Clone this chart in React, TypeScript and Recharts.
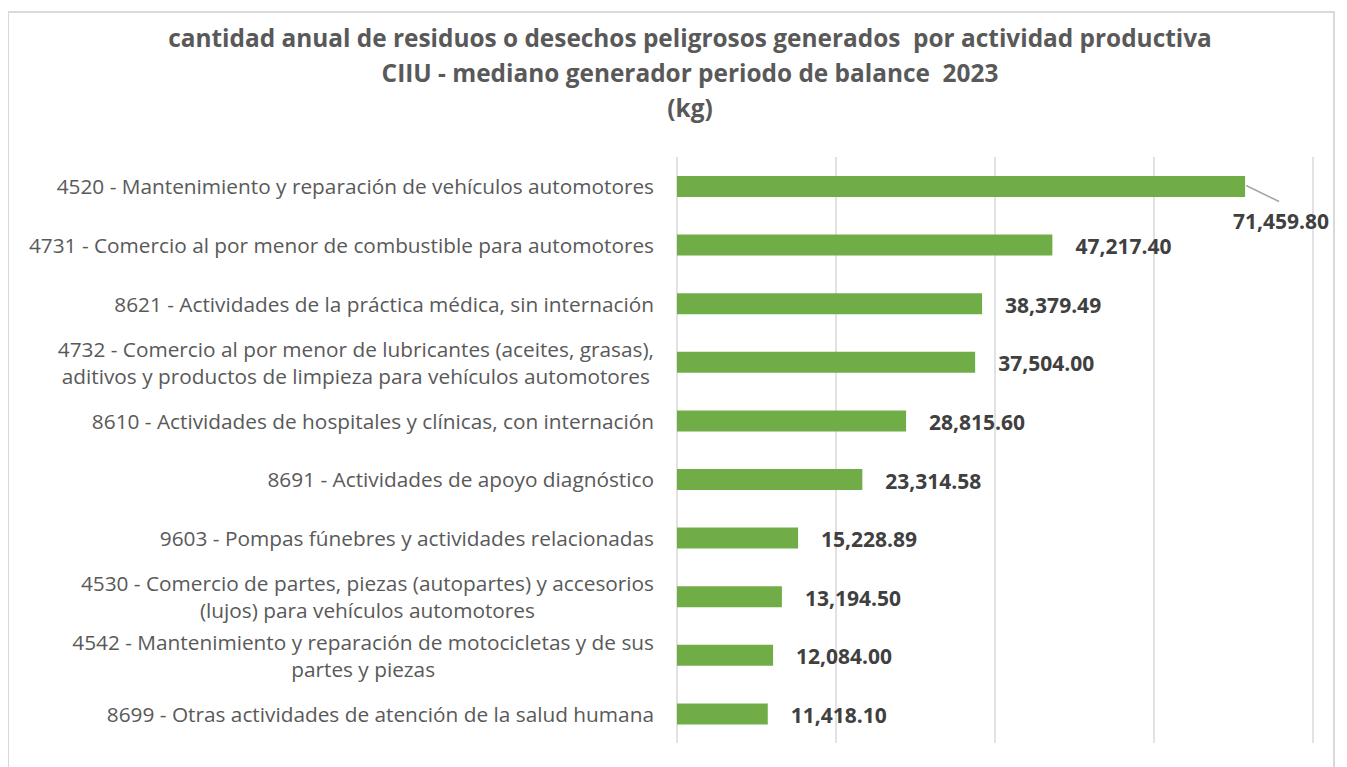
import React from 'react';
import { BarChart, Bar, XAxis, YAxis, CartesianGrid, LabelList } from 'recharts';

const categories = [
  '4520 - Mantenimiento y reparación de vehículos automotores',
  '4731 - Comercio al por menor de combustible para automotores',
  '8621 - Actividades de la práctica médica, sin internación',
  '4732 - Comercio al por menor de lubricantes (aceites, grasas),\naditivos y productos de limpieza para vehículos automotores',
  '8610 - Actividades de hospitales y clínicas, con internación',
  '8691 - Actividades de apoyo diagnóstico',
  '9603 - Pompas fúnebres y actividades relacionadas',
  '4530 - Comercio de partes, piezas (autopartes) y accesorios\n(lujos) para vehículos automotores',
  '4542 - Mantenimiento y reparación de motocicletas y de sus\npartes y piezas',
  '8699 - Otras actividades de atención de la salud humana',
];
const values = [71459.8, 47217.4, 38379.49, 37504.0, 28815.6, 23314.58, 15228.89, 13194.5, 12084.0, 11418.1];
const xTicks = [0, 20000, 40000, 60000, 80000];
const titleLines = [
  'cantidad anual de residuos o desechos peligrosos generados  por actividad productiva',
  'CIIU - mediano generador periodo de balance  2023',
  '(kg)',
];

const data = categories.map((name, i) => ({ name, value: values[i] }));

const CAT_FONT_SIZE = 20.8;
const CAT_FONT = `${CAT_FONT_SIZE}px "Open Sans"`;
let ctx: CanvasRenderingContext2D | null = null;
const measure = (t: string) => {
  if (!ctx) ctx = document.createElement('canvas').getContext('2d');
  if (!ctx) return t.length * 10;
  ctx.font = CAT_FONT;
  return ctx.measureText(t).width;
};

const fmt = (v: number) => v.toLocaleString('en-US', { minimumFractionDigits: 2, maximumFractionDigits: 2 });

function CatTick(props: any) {
  const { x, y, payload } = props;
  const lines: string[] = String(payload.value).split('\n');
  const right = x - 23;
  const common = { fill: '#595959', fontSize: CAT_FONT_SIZE, fontFamily: '"Open Sans"' };
  if (lines.length === 1) {
    return (
      <text x={right} y={y} dominantBaseline="central" textAnchor="end" {...common}>
        {lines[0]}
      </text>
    );
  }
  const w = Math.max(...lines.map(measure));
  const cx = right - w / 2;
  const n = lines.length;
  return (
    <text textAnchor="middle" {...common}>
      {lines.map((l, i) => (
        <tspan key={i} x={cx} y={y + (i - (n - 1) / 2) * 27} dominantBaseline="central">
          {l}
        </tspan>
      ))}
    </text>
  );
}

function ValueLabel(props: any) {
  const { x, y, width, height, value, index } = props;
  const endX = x + width;
  const cy = y + height / 2;
  const style = { fill: '#404040', fontSize: 21, fontWeight: 700, fontFamily: '"Open Sans"' };
  if (index === 0) {
    return (
      <g>
        <line x1={endX + 1} y1={cy - 1} x2={endX + 34} y2={cy + 15} stroke="#a6a6a6" strokeWidth={1.5} />
        <text x={endX + 36} y={cy + 34} textAnchor="middle" dominantBaseline="central" {...style}>
          {fmt(value)}
        </text>
      </g>
    );
  }
  return (
    <text x={endX + 23} y={cy + 1} textAnchor="start" dominantBaseline="central" {...style}>
      {fmt(value)}
    </text>
  );
}

export default function App() {
  return (
    <div style={{ position: 'relative', width: 1331, height: 759, overflow: 'hidden', background: '#fff' }}>
      <div
        style={{
          position: 'absolute',
          left: -1,
          top: 3,
          width: 1328,
          height: 800,
          border: '2px solid #d9d9d9',
          boxSizing: 'border-box',
        }}
      />
      <div
        style={{
          position: 'absolute',
          left: 0,
          top: 12,
          width: 1364,
          textAlign: 'center',
          color: '#595959',
          fontFamily: '"Open Sans"',
          fontWeight: 700,
          fontSize: 24.4,
          lineHeight: '35px',
        }}
      >
        {titleLines.map((t, i) => (
          <div key={i} style={{ whiteSpace: 'pre' }}>{t}</div>
        ))}
      </div>
      <div style={{ position: 'absolute', left: 0, top: 0 }}>
        <BarChart
          width={1331}
          height={750}
          data={data}
          layout="vertical"
          margin={{ top: 149, right: 26, bottom: 15, left: 0 }}
        >
          <CartesianGrid horizontal={false} vertical stroke="#d9d9d9" strokeWidth={1.5} />
          <XAxis type="number" domain={[0, 80000]} ticks={xTicks} hide />
          <YAxis
            type="category"
            dataKey="name"
            width={669}
            axisLine={false}
            tickLine={false}
            tickSize={0}
            tickMargin={0}
            interval={0}
            tick={<CatTick />}
          />
          <Bar dataKey="value" fill="#70ad47" barSize={21} isAnimationActive={false}>
            <LabelList dataKey="value" content={<ValueLabel />} />
          </Bar>
        </BarChart>
      </div>
    </div>
  );
}
